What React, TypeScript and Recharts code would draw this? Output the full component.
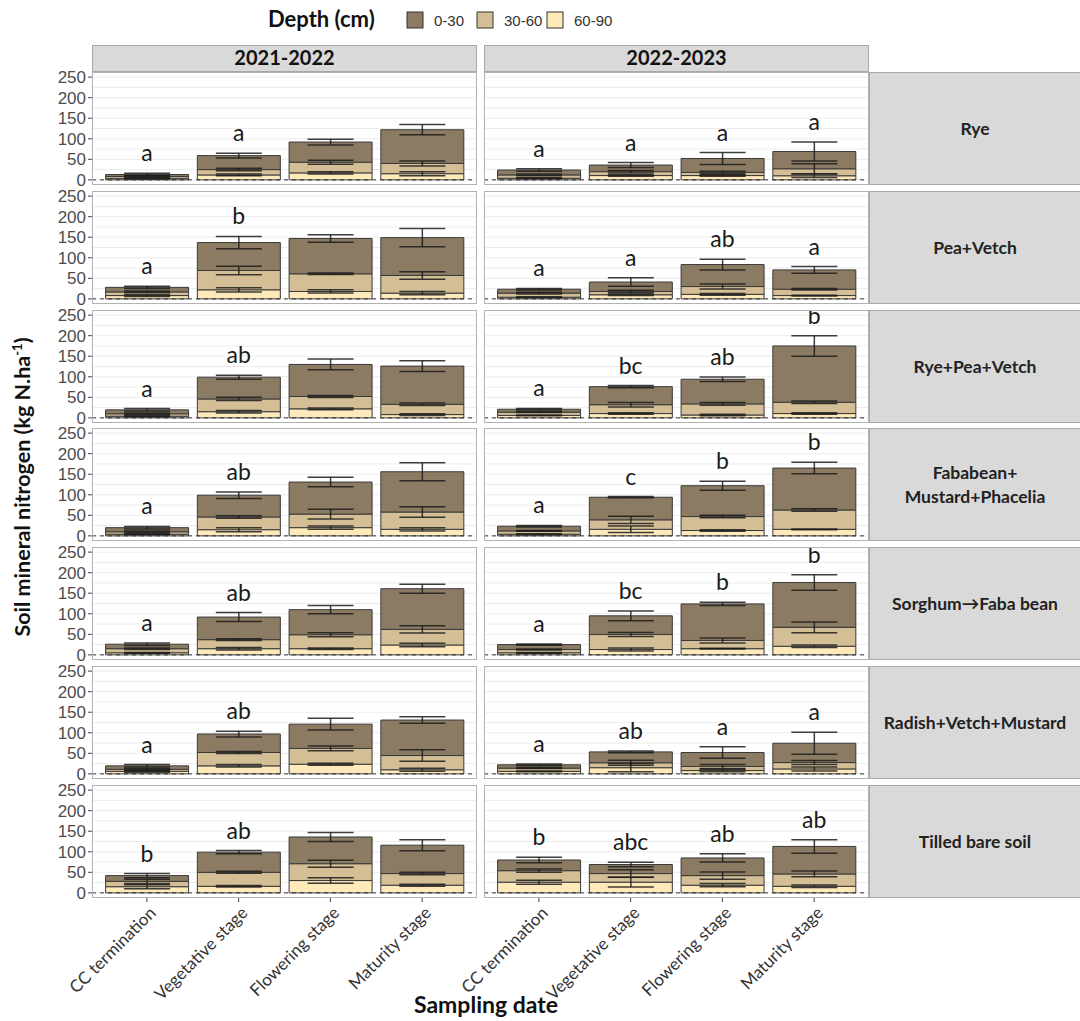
import React from "react";
import {
  ComposedChart,
  Bar,
  XAxis,
  YAxis,
  CartesianGrid,
  ErrorBar,
  ReferenceLine,
  Scatter,
} from "recharts";

// ---------- categories ----------
const stages = ["CC termination", "Vegetative stage", "Flowering stage", "Maturity stage"];
const years = ["2021-2022", "2022-2023"];
const treatments = [
  "Rye",
  "Pea+Vetch",
  "Rye+Pea+Vetch",
  "Fababean+|Mustard+Phacelia",
  "Sorghum\u2192Faba bean",
  "Radish+Vetch+Mustard",
  "Tilled bare soil",
];
const depths = ["0-30", "30-60", "60-90"];
const yTicks = [0, 50, 100, 150, 200, 250];
const gridValues = [0, 25, 50, 75, 100, 125, 150, 175, 200, 225, 250];

// ---------- 2021-2022 (rows = treatments, cols = stages) ----------
const n0_30_2122 = [
  [5, 34, 49, 82],
  [11, 68, 86, 92],
  [9.5, 53, 78, 93],
  [10, 53, 78, 98],
  [11, 55, 61, 99],
  [8.5, 45, 59, 86.4],
  [14, 49, 65, 69],
];
const n30_60_2122 = [
  [5, 13, 26, 25],
  [9, 47, 43, 43],
  [6, 31, 30, 25],
  [6, 31, 33, 42],
  [10, 22, 34, 38],
  [5, 32.5, 38.5, 34.6],
  [13, 34, 41, 28.4],
];
const n60_90_2122 = [
  [3, 12, 17, 15],
  [8, 22, 18, 14],
  [4, 15, 22, 8],
  [4, 15, 20, 16],
  [5, 15, 15, 24],
  [6, 19.5, 23.5, 10],
  [15, 16, 30, 18.6],
];
const sd0_30_2122 = [
  [3, 6, 7, 12.5],
  [3, 15, 9, 22],
  [3, 5, 13, 13],
  [3, 8, 11.5, 22],
  [3, 11, 10, 11],
  [3, 7, 14.5, 8],
  [5, 4, 11, 13.5],
];
const sd30_60_2122 = [
  [2, 3, 5, 6],
  [2, 10.5, 2, 9],
  [2, 4, 2.5, 3],
  [2, 3, 12, 13],
  [2, 2, 5, 9],
  [2, 2.5, 6, 14],
  [5, 2.5, 8.5, 3],
];
const sd60_90_2122 = [
  [1, 2, 3, 5],
  [2, 5, 4, 4],
  [1, 3, 2, 2],
  [1, 5, 4, 4],
  [1, 3, 2, 4],
  [2, 3, 2.5, 3.5],
  [5, 2, 6.5, 2.5],
];
const letters_2122 = [
  ["a", "a", "", ""],
  ["a", "b", "", ""],
  ["a", "ab", "", ""],
  ["a", "ab", "", ""],
  ["a", "ab", "", ""],
  ["a", "ab", "", ""],
  ["b", "ab", "", ""],
];

// ---------- 2022-2023 ----------
const n0_30_2223 = [
  [12, 16, 34, 42],
  [9.5, 23, 53.5, 47],
  [7, 44, 60, 137],
  [11.5, 55, 75, 102],
  [12, 45.5, 89, 109],
  [8, 26.5, 34, 47],
  [26, 22, 43, 67],
];
const n30_60_2223 = [
  [8, 9.5, 7.5, 17],
  [10, 8, 19, 15.5],
  [8, 21.5, 27, 27.5],
  [8, 23, 34, 47],
  [8, 36.5, 20, 46],
  [8, 12, 10, 15.5],
  [28, 21, 23.4, 30],
];
const n60_90_2223 = [
  [4, 10.5, 10.5, 10],
  [4, 10, 11, 8],
  [6, 10.5, 7, 10.5],
  [4, 16, 13, 16],
  [5, 13, 15, 21],
  [6, 15, 8, 12],
  [26, 26, 18.6, 16],
];
const sd0_30_2223 = [
  [3, 6, 14.5, 23],
  [2, 10.5, 13, 8],
  [2, 2.5, 5.5, 25],
  [2, 1.5, 11, 14],
  [1.5, 12, 4, 19],
  [2, 2, 14, 27],
  [6.5, 5.5, 10, 16.5],
];
const sd30_60_2223 = [
  [2, 3, 3, 12],
  [2, 3, 6, 2],
  [1, 5.5, 3.5, 3],
  [1, 9, 3, 3],
  [1, 5, 6, 13],
  [1, 6, 5, 5],
  [4, 9, 9, 7],
];
const sd60_90_2223 = [
  [1, 2, 2, 4],
  [1, 2, 2, 1],
  [1, 2, 2, 2],
  [1, 8, 2, 1],
  [1, 3.5, 1, 3],
  [1, 10, 3, 5],
  [5, 12, 4, 3],
];
const letters_2223 = [
  ["a", "a", "a", "a"],
  ["a", "a", "ab", "a"],
  ["a", "bc", "ab", "b"],
  ["a", "c", "b", "b"],
  ["a", "bc", "b", "b"],
  ["a", "ab", "a", "a"],
  ["b", "abc", "ab", "ab"],
];

// ---------- styling / layout ----------
const depthColors = ["#8b7b62", "#d4be96", "#fee9bb"];
const BAR_STROKE = "#3a3a3a";
const ERR_STROKE = "#1c1c1c";
const SANS = "Lato, 'Open Sans', sans-serif";
const ARIAL = "'Liberation Sans', Arial, sans-serif";

const COL_X = [92, 484];
const PANEL_W = 385;
const PANEL_H = 113;
const ROW_TOP0 = 72;
const ROW_PITCH = 118.8;
const STRIP_X = 869;

const yearSets = [
  { n1: n0_30_2122, n2: n30_60_2122, n3: n60_90_2122, s1: sd0_30_2122, s2: sd30_60_2122, s3: sd60_90_2122, L: letters_2122 },
  { n1: n0_30_2223, n2: n30_60_2223, n3: n60_90_2223, s1: sd0_30_2223, s2: sd30_60_2223, s3: sd60_90_2223, L: letters_2223 },
];

function panelData(yi: number, ri: number) {
  const ys = yearSets[yi];
  return stages.map((stage, i) => {
    const a = ys.n3[ri][i];
    const b = ys.n2[ri][i];
    const c = ys.n1[ri][i];
    return {
      stage,
      d6090: a,
      d3060: b,
      d030: c,
      e6090: ys.s3[ri][i],
      e3060: ys.s2[ri][i],
      e030: ys.s1[ri][i],
      labelAt: a + b + c + ys.s1[ri][i],
      letter: ys.L[ri][i],
    };
  });
}

const StageTick = (props: any) => {
  const { x, y, payload } = props;
  const ax = x + 10;
  const ay = y + 10;
  return (
    <text
      x={ax}
      y={ay}
      transform={`rotate(-45 ${ax} ${ay})`}
      textAnchor="end"
      fontSize={17}
      fontFamily={SANS}
      fill="#333"
    >
      {payload.value}
    </text>
  );
};

const LetterShape = (props: any) => {
  const { cx, cy, payload } = props;
  if (!payload || !payload.letter) return <g />;
  return (
    <text x={cx} y={cy - 12} textAnchor="middle" fontSize={23} fontFamily={SANS} fill="#1a1a1a">
      {payload.letter}
    </text>
  );
};

function Panel({ yi, ri }: { yi: number; ri: number }) {
  const isLeft = yi === 0;
  const isBottom = ri === treatments.length - 1;
  const yAxisW = isLeft ? 52 : 0;
  const xAxisH = isBottom ? 130 : 0;
  const left = COL_X[yi] - yAxisW;
  const top = Math.round(ROW_TOP0 + ri * ROW_PITCH);
  const data = panelData(yi, ri);
  return (
    <div style={{ position: "absolute", left, top }}>
      <ComposedChart
        width={PANEL_W + yAxisW}
        height={PANEL_H + xAxisH}
        data={data}
        margin={{ top: 0, right: 0, bottom: 0, left: 0 }}
        barCategoryGap="5%"
      >
        <CartesianGrid vertical={false} horizontalValues={gridValues} stroke="#ececec" />
        <XAxis
          dataKey="stage"
          type="category"
          padding={{ left: 9, right: 9 }}
          hide={!isBottom}
          height={isBottom ? xAxisH : 0}
          tick={<StageTick />}
          tickSize={4}
          tickLine={{ stroke: "#444" }}
          axisLine={false}
          interval={0}
        />
        <YAxis
          type="number"
          domain={[-12.5, 262.5]}
          ticks={yTicks}
          interval={0}
          allowDataOverflow
          hide={!isLeft}
          width={yAxisW}
          tickSize={4}
          tickMargin={2}
          tickLine={{ stroke: "#444" }}
          axisLine={false}
          tick={{ fill: "#4d4d4d", fontSize: 17, fontFamily: ARIAL }}
        />
        <Bar dataKey="d6090" stackId="s" fill={depthColors[2]} stroke={BAR_STROKE} strokeWidth={1} isAnimationActive={false}>
          <ErrorBar dataKey="e6090" width={23} stroke={ERR_STROKE} strokeWidth={1.5} strokeOpacity={0.85} />
        </Bar>
        <Bar dataKey="d3060" stackId="s" fill={depthColors[1]} stroke={BAR_STROKE} strokeWidth={1} isAnimationActive={false}>
          <ErrorBar dataKey="e3060" width={23} stroke={ERR_STROKE} strokeWidth={1.5} strokeOpacity={0.85} />
        </Bar>
        <Bar dataKey="d030" stackId="s" fill={depthColors[0]} stroke={BAR_STROKE} strokeWidth={1} isAnimationActive={false}>
          <ErrorBar dataKey="e030" width={23} stroke={ERR_STROKE} strokeWidth={1.5} strokeOpacity={0.85} />
        </Bar>
        <ReferenceLine y={0} stroke="#333" strokeDasharray="4 4" strokeWidth={1} />
        <Scatter dataKey="labelAt" shape={<LetterShape />} isAnimationActive={false} legendType="none" />
      </ComposedChart>
    </div>
  );
}

function Overlay() {
  const rows = treatments.map((t, ri) => Math.round(ROW_TOP0 + ri * ROW_PITCH));
  return (
    <svg
      width={1080}
      height={1021}
      style={{ position: "absolute", left: 0, top: 0, pointerEvents: "none" }}
    >
      {/* legend */}
      <text x={268} y={27} fontSize={22} fontWeight="bold" fontFamily={SANS} fill="#111">
        Depth (cm)
      </text>
      {depths.map((d, i) => {
        const kx = [407, 477, 547][i];
        return (
          <g key={d}>
            <rect x={kx} y={12} width={16} height={16} fill={depthColors[i]} stroke="#333" strokeWidth={1} />
            <text x={kx + 27} y={26} fontSize={15} fontFamily={ARIAL} fill="#333">
              {d}
            </text>
          </g>
        );
      })}
      {/* top strips */}
      {years.map((y, yi) => (
        <g key={y}>
          <rect x={COL_X[yi] + 0.5} y={45.5} width={PANEL_W - 1} height={26} fill="#d9d9d9" stroke="#a8a8a8" />
          <text
            x={COL_X[yi] + PANEL_W / 2}
            y={65}
            textAnchor="middle"
            fontSize={20}
            fontWeight="bold"
            fontFamily={SANS}
            fill="#111"
          >
            {y}
          </text>
        </g>
      ))}
      {/* panel borders and right strips */}
      {rows.map((top, ri) => (
        <g key={ri}>
          {COL_X.map((cx, yi) => (
            <rect
              key={yi}
              x={cx + 0.5}
              y={top + 0.5}
              width={PANEL_W - 1}
              height={PANEL_H - 1}
              fill="none"
              stroke="#b3b3b3"
              strokeWidth={1}
            />
          ))}
          <rect x={STRIP_X + 0.5} y={top + 0.5} width={230} height={PANEL_H - 1} fill="#d9d9d9" stroke="#a8a8a8" />
          {treatments[ri].split("|").map((line, li, arr) => (
            <text
              key={li}
              x={975}
              y={top + PANEL_H / 2 + 6 + (li - (arr.length - 1) / 2) * 24}
              textAnchor="middle"
              fontSize={17.5}
              fontWeight="bold"
              fontFamily={SANS}
              fill="#222"
            >
              {line}
            </text>
          ))}
        </g>
      ))}
      {/* axis titles */}
      <text
        x={30}
        y={487}
        transform="rotate(-90 30 487)"
        textAnchor="middle"
        fontSize={21.5}
        fontWeight="bold"
        fontFamily={SANS}
        fill="#111"
      >
        Soil mineral nitrogen (kg N.ha
        <tspan dy={-8} fontSize={13}>
          -1
        </tspan>
        <tspan dy={8}>)</tspan>
      </text>
      <text x={486} y={1013} textAnchor="middle" fontSize={23} fontWeight="bold" fontFamily={SANS} fill="#111">
        Sampling date
      </text>
    </svg>
  );
}

export default function App() {
  return (
    <div style={{ position: "absolute", left: 0, top: 0, width: 1080, height: 1021, background: "#fff" }}>
      <style>{`.recharts-surface { overflow: visible; } .recharts-wrapper { overflow: visible; }`}</style>
      {treatments.map((t, ri) => years.map((y, yi) => <Panel key={`${ri}-${yi}`} yi={yi} ri={ri} />))}
      <Overlay />
    </div>
  );
}
